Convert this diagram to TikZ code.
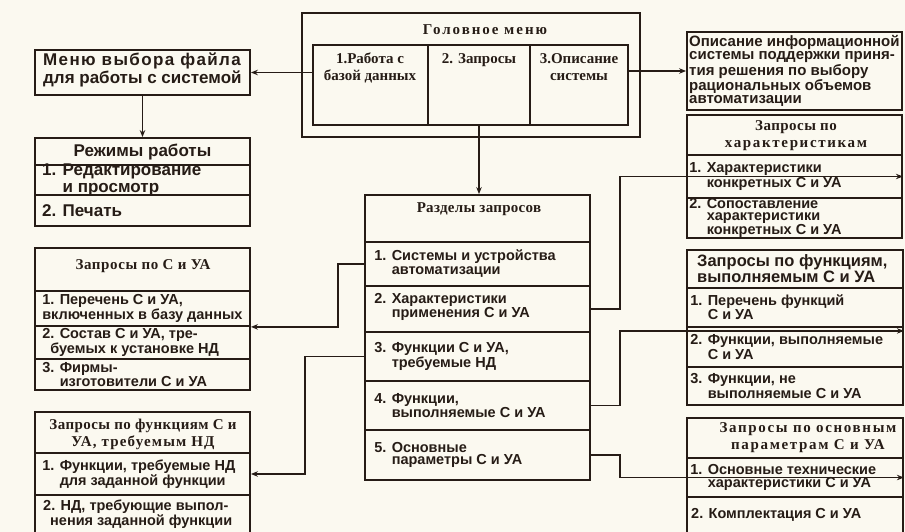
\documentclass[tikz,border=0pt]{standalone}
\usepackage{fontspec}
\setmainfont{Liberation Serif}
\newfontfamily\sansf{Liberation Sans}
\usetikzlibrary{arrows.meta,fit,calc}
\definecolor{ink}{RGB}{38,28,22}
\definecolor{paper}{RGB}{251,249,240}
\newcommand\itemf{\sansf\bfseries\fontsize{14.5}{12.5}\selectfont}
\newcommand\bigf{\sansf\bfseries\fontsize{17}{13}\selectfont}
\newcommand\descf{\sansf\bfseries\fontsize{15}{13}\selectfont}
\newcommand\hdrf{\sansf\bfseries\fontsize{16.5}{12.5}\selectfont}
\newcommand\ttlf{\bfseries\fontsize{15}{17}\selectfont}
\newcommand\lsp[2]{{\addfontfeature{LetterSpace=#1}#2}}
\newcommand\bx[5]{\node[fit={(#2,#3)(#4,#5)}, cellbox] (#1) {};}
\begin{document}
\begin{tikzpicture}[x=1pt,y=-1pt,
  cellbox/.style={draw=ink, line width=1.8pt, inner sep=0pt},
  thick box/.style={draw=ink, line width=2.2pt, inner sep=0pt},
  itm/.style={font=\itemf, align=left, anchor=west, inner sep=0pt, text=ink},
  big/.style={font=\bigf, align=left, inner sep=0pt, text=ink},
  ttl/.style={font=\ttlf, align=center, inner sep=0pt, text=ink},
  arr/.style={draw=ink, line width=1.8pt, -{Stealth[length=7pt,width=5.5pt]}}]
\fill[paper] (0,0) rectangle (905,532);
\begin{scope}
\clip (0,0) rectangle (905,532);
% ---- head menu
\node[fit={(302,13)(640,137)}, thick box] (head) {};
\node[fit={(313,45)(428,125)}, thick box] (hc1) {};
\node[fit={(428,45)(530,125)}, thick box] (hc2) {};
\node[fit={(530,45)(628,125)}, thick box] (hc3) {};
\node[ttl] (t-head) at (485,30) {\lsp{13}{Головное меню}};
\node[ttl, anchor=north] (t-hc1) at (370,53) {1.Работа с\\базой данных};
\node[ttl, anchor=north] (t-hc2) at (479,53) {2. Запросы};
\node[ttl, anchor=north] (t-hc3) at (579,53) {3.Описание\\системы};
% ---- file menu
\bx{menu}{35}{50}{250}{95}
\node[big, anchor=west] (t-menu) at (43,70) {\lsp{8}{Меню выбора файла}\\для работы с системой};
% ---- modes
\bx{rez0}{35}{138}{250}{165}
\bx{rez1}{35}{165}{250}{195}
\bx{rez2}{35}{195}{250}{226}
\node[big] (t-rez0) at (142.5,152) {Режимы работы};
\node[big, anchor=west] (t-rez1) at (42,180) {1. Редактирование\\\phantom{1. }и просмотр};
\node[big, anchor=west] (t-rez2) at (42,211) {2. Печать};
% ---- description
\bx{desc}{687}{32}{902}{110}
\node[font=\descf, align=left, anchor=west, inner sep=0pt, text=ink] (t-desc) at (689,71)
  {Описание информационной\\системы поддержки приня-\\тия решения по выбору\\рациональных объемов\\автоматизации};
% ---- sections of queries
\bx{rz0}{365}{195}{590}{242}
\bx{rz1}{365}{242}{590}{286}
\bx{rz2}{365}{286}{590}{332}
\bx{rz3}{365}{332}{590}{381}
\bx{rz4}{365}{381}{590}{430}
\bx{rz5}{365}{430}{590}{480}
\node[ttl] (t-rz0) at (479,209) {\lsp{2}{Разделы запросов}};
\node[itm] (t-rz1) at ([xshift=10]rz1.west) {1. Системы и устройства\\\phantom{1. }автоматизации};
\node[itm] (t-rz2) at ([xshift=10,yshift=2]rz2.west) {2. Характеристики\\\phantom{2. }применения С и УА};
\node[itm] (t-rz3) at ([xshift=10]rz3.west) {3. Функции С и УА,\\\phantom{3. }требуемые НД};
\node[itm] (t-rz4) at ([xshift=10]rz4.west) {4. Функции,\\\phantom{4. }выполняемые С и УА};
\node[itm] (t-rz5) at ([xshift=10]rz5.west) {5. Основные\\\phantom{5. }параметры С и УА};
% ---- left: queries by systems
\bx{g0}{35}{248}{250}{291}
\bx{g1}{35}{291}{250}{326}
\bx{g2}{35}{326}{250}{359}
\bx{g3}{35}{359}{250}{390}
\node[ttl] (t-g0) at (143,266) {\lsp{4}{Запросы по С и УА}};
\node[itm] (t-g1) at ([xshift=8]g1.west) {1. Перечень С и УА,\\включенных в базу данных};
\node[itm] (t-g2) at ([xshift=8]g2.west) {2. Состав С и УА, тре-\\\hspace{8pt}буемых к установке НД};
\node[itm] (t-g3) at ([xshift=8]g3.west) {3. Фирмы-\\\phantom{3. }изготовители С и УА};
% ---- left: queries by required functions
\bx{h0}{35}{412}{250}{453}
\bx{h1}{35}{453}{250}{495}
\bx{h2}{35}{495}{250}{545}
\node[ttl] (t-h0) at (143,434) {\lsp{3}{Запросы по функциям С и}\\\lsp{8}{УА, требуемым НД}};
\node[itm] (t-h1) at ([xshift=8]h1.west) {1. Функции, требуемые НД\\\phantom{1. }для заданной функции};
\node[itm] (t-h2) at (43,514) {2. НД, требующие выпол-\\\hspace{7pt}нения заданной функции};
% ---- right: queries by characteristics
\bx{e0}{687}{115}{902}{155}
\bx{e1}{687}{155}{902}{198}
\bx{e2}{687}{198}{902}{238}
\node[ttl] (t-e0) at (796,136) {\lsp{3}{Запросы по}\\\lsp{11}{характеристикам}};
\node[itm] (t-e1) at ([xshift=3]e1.west) {1. Характеристики\\\phantom{1. }конкретных С и УА};
\node[itm, font=\sansf\bfseries\fontsize{14.5}{12}\selectfont] (t-e2) at ([xshift=3]e2.west) {2. Сопоставление\\\phantom{2. }характеристики\\\phantom{2. }конкретных С и УА};
% ---- right: queries by performed functions
\bx{i0}{687}{250}{903}{288}
\bx{i1}{687}{288}{903}{327}
\bx{i2}{687}{327}{903}{367}
\bx{i3}{687}{367}{903}{405}
\node[font=\hdrf, align=left, anchor=west, inner sep=0pt, text=ink] (t-i0) at (697,269) {Запросы по функциям,\\выполняемым С и УА};
\node[itm] (t-i1) at ([xshift=4]i1.west) {1. Перечень функций\\\phantom{1. }С и УА};
\node[itm] (t-i2) at ([xshift=4]i2.west) {2. Функции, выполняемые\\\phantom{2. }С и УА};
\node[itm] (t-i3) at ([xshift=4]i3.west) {3. Функции, не\\\phantom{3. }выполняемые С и УА};
% ---- right: queries by main parameters
\bx{j0}{687}{418}{903}{458}
\bx{j1}{687}{458}{903}{497}
\bx{j2}{687}{497}{903}{545}
\node[ttl] (t-j0) at (808,438) {\lsp{11}{Запросы по основным}\\\lsp{11}{параметрам С и УА}};
\node[itm] (t-j1) at ([xshift=4]j1.west) {1. Основные технические\\\phantom{1. }характеристики С и УА};
\node[itm] (t-j2) at (691,515) {2. Комплектация С и УА};
% ---- connectors
\draw[arr] (menu.east -| hc1.west) -- (menu.east);
\draw[arr] (menu.south) -- (rez0.north);
\draw[arr] (desc.west -| hc3.east) -- (desc.west);
\draw[arr] (hc2.south) -- (hc2.south |- rz0.north);
\draw[arr] (rz1.west) -- ++(-26,0) |- (g1.south east);
\draw[arr] (rz3.west) -- ++(-59,0) |- (h1.east);
\draw[arr] (rz2.east) -- ++(29,0) |- (e1.east);
\draw[arr] (rz4.east) -- ++(29,0) |- ([yshift=-3pt]i1.south east);
\draw[arr] (rz5.east) -- ++(29,0) |- (j1.east);
\end{scope}
\pgfresetboundingbox
\path[use as bounding box] (0,0) rectangle (905,532);
\end{tikzpicture}
\end{document}
